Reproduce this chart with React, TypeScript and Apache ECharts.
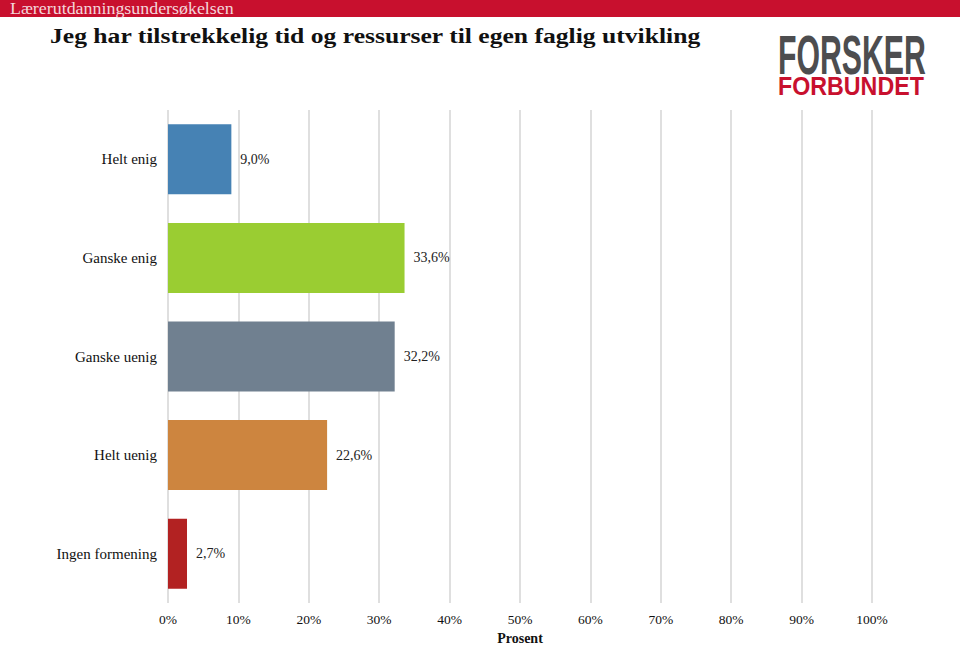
import React, { useEffect, useRef } from "react";
import * as echarts from "echarts";

const categories = ["Helt enig", "Ganske enig", "Ganske uenig", "Helt uenig", "Ingen formening"];
const values = [9.0, 33.6, 32.2, 22.6, 2.7];
const colors = ["#4682B4", "#9ACD32", "#708090", "#CD853F", "#B22222"];
const headerText = "Lærerutdanningsundersøkelsen";
const titleText = "Jeg har tilstrekkelig tid og ressurser til egen faglig utvikling";
const axisName = "Prosent";

const SERIF = "'Liberation Serif', 'DejaVu Serif', serif";
const SANS = "'Liberation Sans', Arial, sans-serif";

export default function App() {
  const ref = useRef<HTMLDivElement>(null);
  useEffect(() => {
    document.body.style.margin = "0";
    const chart = echarts.init(ref.current!, null, { renderer: "svg" });
    chart.setOption({
      animation: false,
      backgroundColor: "#ffffff",
      grid: { left: 168, right: 88, top: 110, bottom: 42, containLabel: false, outerBoundsMode: "none" },
      xAxis: {
        type: "value",
        min: 0,
        max: 100,
        interval: 10,
        name: axisName,
        nameLocation: "middle",
        nameGap: 28,
        nameTextStyle: { fontFamily: SERIF, fontWeight: "bold", fontSize: 14, color: "#111" },
        axisLine: { show: false },
        axisTick: { show: false },
        axisLabel: { formatter: (v: number) => `${v}%`, fontFamily: SERIF, fontSize: 13.5, color: "#111", margin: 9 },
        splitLine: { show: true, lineStyle: { color: "#d4d4d4", width: 1.5 } },
      },
      yAxis: {
        type: "category",
        data: categories,
        inverse: true,
        axisLine: { show: false },
        axisTick: { show: false },
        axisLabel: { fontFamily: SERIF, fontSize: 15, color: "#111", margin: 11 },
      },
      series: [
        {
          type: "bar",
          barWidth: 70,
          data: values.map((v, i) => ({ value: v, itemStyle: { color: colors[i] } })),
          label: {
            show: true,
            position: "right",
            distance: 9,
            fontFamily: SERIF,
            fontSize: 14,
            color: "#222",
            formatter: (p: any) => `${p.value.toFixed(1).replace(".", ",")}%`,
          },
        },
      ],
      graphic: [
        { type: "rect", shape: { x: 0, y: 0, width: 960, height: 17 }, style: { fill: "#C8102E" } },
        {
          type: "text",
          x: 10,
          y: 1,
          scaleX: 1.12,
          style: { text: headerText, fill: "#f3d6db", font: `16px ${SERIF}`, textVerticalAlign: "top" },
        },
        {
          type: "text",
          x: 50,
          y: 25,
          scaleX: 1.22,
          style: { text: titleText, fill: "#111", font: `bold 21px ${SERIF}`, textVerticalAlign: "top" },
        },
        {
          type: "text",
          x: 778,
          y: 27,
          scaleX: 0.55,
          style: {
            text: "FORSKER",
            fill: "#4d4d4f",
            font: `bold 55px ${SANS}`,
            textVerticalAlign: "top",
          },
        },
        {
          type: "text",
          x: 778,
          y: 74,
          scaleX: 0.93,
          style: {
            text: "FORBUNDET",
            fill: "#C8102E",
            font: `bold 25px ${SANS}`,
            textVerticalAlign: "top",
          },
        },
      ],
    });
    return () => chart.dispose();
  }, []);
  return <div ref={ref} style={{ width: 960, height: 645 }} />;
}
